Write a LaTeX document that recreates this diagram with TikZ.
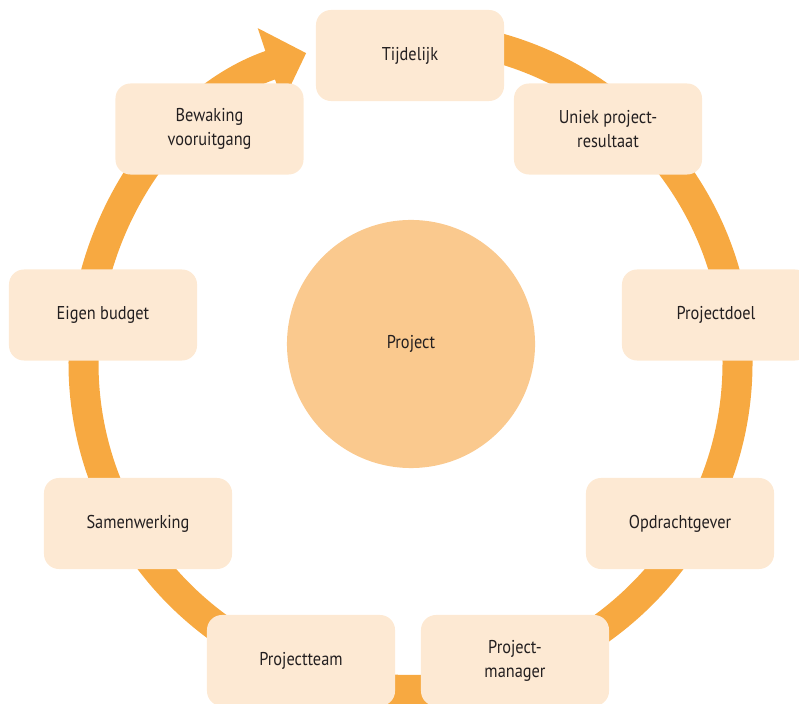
\documentclass[tikz,border=0pt]{standalone}
\usepackage{fontspec}
\setmainfont{PT Sans}[FakeStretch=0.88]
\usepackage{tikz}
\usetikzlibrary{arrows.meta}

\definecolor{ringorange}{RGB}{247,169,65}
\definecolor{boxcream}{RGB}{253,233,211}
\definecolor{hubpeach}{RGB}{250,201,142}
\definecolor{txtdark}{RGB}{35,31,32}

\begin{document}
\begin{tikzpicture}[
  x=0.025cm, y=0.025cm,
  every node/.style={font=\fontsize{13.2pt}{17pt}\selectfont, text=txtdark, align=center},
  item/.style={fill=boxcream, rounded corners=0.375cm, minimum width=4.7cm, minimum height=2.275cm, inner sep=0pt},
  hub/.style={circle, fill=hubpeach, minimum size=6.2cm, inner sep=0pt},
  ring/.style={draw=ringorange, line width=0.75cm}
]
\clip (0,0) rectangle (799,703);

% --- cycle ---
\draw[ring, -{Triangle[width=1.9cm, length=0.95cm]}] (410.5,667)
  arc[start angle=90, end angle=-251.4, radius=327];

% --- centre ---
\node[hub] (project) at (411,359) {Project};

% --- boxes ---
\node[item] (tijd)    at (410,647.5) {Tijdelijk};
\node[item] (uniek)   at (608,574)   {Uniek project-\\resultaat};
\node[item] (doel)    at (716,388)   {Projectdoel};
\node[item] (opdr)    at (680,179.5) {Opdrachtgever};
\node[item] (manager) at (515,42.5)  {Project-\\manager};
\node[item] (team)    at (301,42.5)  {Projectteam};
\node[item] (samen)   at (138,179.5) {Samenwerking};
\node[item] (budget)  at (103,388)   {Eigen budget};
\node[item] (bewak)   at (209.5,574) {Bewaking\\vooruitgang};

\end{tikzpicture}
\end{document}
